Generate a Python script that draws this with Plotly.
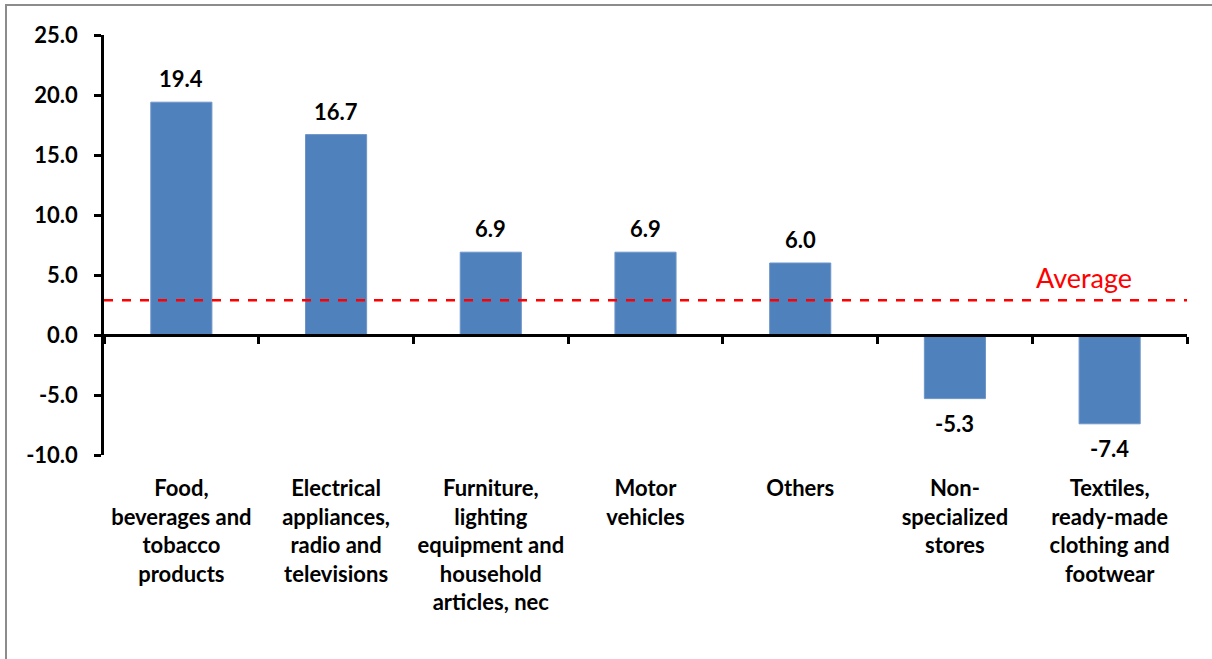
import plotly.graph_objects as go

categories = [
    "Food,<br>beverages and<br>tobacco<br>products",
    "Electrical<br>appliances,<br>radio and<br>televisions",
    "Furniture,<br>lighting<br>equipment and<br>household<br>articles, nec",
    "Motor<br>vehicles",
    "Others",
    "Non-<br>specialized<br>stores",
    "Textiles,<br>ready-made<br>clothing and<br>footwear",
]
values = [19.4, 16.7, 6.9, 6.9, 6.0, -5.3, -7.4]
average = 2.9
y_ticks = [-10, -5, 0, 5, 10, 15, 20, 25]

FONT = "Lato"
W, H = 1212, 659
ML, MR, MT, MB = 104, 25, 35, 204
PW, PH = W - ML - MR, H - MT - MB
Y_MIN, Y_MAX = -10, 25

fig = go.Figure()
fig.add_trace(go.Bar(
    x=categories,
    y=values,
    width=0.395,
    marker=dict(color="#4F81BD", line=dict(color="#6E95C8", width=1)),
    xaxis="x",
    showlegend=False,
))
# invisible trace carrying the axis line drawn at zero
fig.add_trace(go.Scatter(
    x=categories, y=[0] * len(categories), mode="markers",
    marker=dict(opacity=0), xaxis="x2", hoverinfo="skip", showlegend=False,
))

# value labels above positive bars, below negative ones
for cat, v in zip(categories, values):
    fig.add_annotation(
        x=cat, y=v, xref="x", yref="y", text=f"{v:.1f}", showarrow=False,
        yanchor="bottom" if v >= 0 else "top",
        yshift=8 if v >= 0 else -9,
        font=dict(family=FONT, size=22, color="black", weight="bold"),
    )

# average line across the plot
fig.add_shape(type="line", xref="paper", yref="y", x0=0, x1=1,
              y0=average, y1=average,
              line=dict(color="#FF0000", width=2.5, dash="dash"))
fig.add_annotation(xref="paper", yref="y", x=(1084 - ML) / PW, y=average,
                   xanchor="center", yshift=23, text="Average", showarrow=False,
                   font=dict(family=FONT, size=27, color="#FF0000"))

# outer chart frame
fig.add_shape(type="rect", xref="paper", yref="paper",
              x0=(6 - ML) / PW, x1=(W + 20 - ML) / PW,
              y0=(H - MB - (H + 20)) / PH, y1=(H - MB - 5) / PH,
              line=dict(color="#8C8C8C", width=2), fillcolor="rgba(0,0,0,0)",
              layer="below")

fig.update_layout(
    width=W, height=H,
    margin=dict(l=ML, r=MR, t=MT, b=MB),
    paper_bgcolor="white", plot_bgcolor="white",
    font=dict(family=FONT, color="black"),
    bargap=0.6,
    xaxis=dict(
        showline=False, ticks="", showgrid=False, zeroline=False,
        tickfont=dict(family=FONT, size=22, color="black", weight="bold"),
        ticklabelstandoff=18, tickangle=0,
    ),
    xaxis2=dict(
        overlaying="x", matches="x", anchor="free",
        position=(0 - Y_MIN) / (Y_MAX - Y_MIN),
        showline=True, linecolor="black", linewidth=2.5,
        ticks="outside", tickson="boundaries", ticklen=7, tickwidth=2.5,
        tickcolor="black", showticklabels=False, showgrid=False, zeroline=False,
    ),
    yaxis=dict(
        range=[Y_MIN, Y_MAX], tickvals=y_ticks,
        ticktext=[f"{t:.1f}" for t in y_ticks],
        showline=True, linecolor="black", linewidth=2.5,
        ticks="outside", ticklen=7, tickwidth=2.5, tickcolor="black",
        showgrid=False, zeroline=False,
        tickfont=dict(family=FONT, size=22, color="black", weight="bold"),
        ticklabelstandoff=12,
    ),
)

fig.write_html("out.html")
